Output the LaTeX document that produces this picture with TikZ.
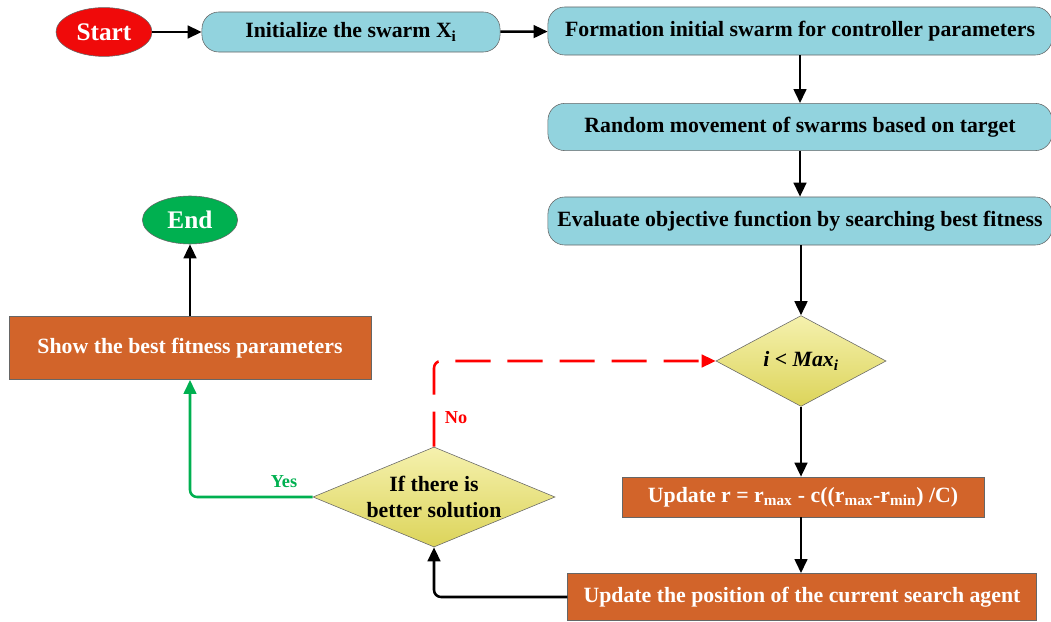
\documentclass[tikz,border=0pt]{standalone}
\usepackage{fontspec}
\setmainfont{Liberation Serif}
\usetikzlibrary{shapes.geometric,arrows.meta}

\definecolor{swarmblue}{HTML}{92D3DE}
\definecolor{rustorange}{HTML}{D2642A}
\definecolor{startred}{HTML}{F00A0A}
\definecolor{endgreen}{HTML}{00B050}
\definecolor{diamondtop}{HTML}{F5F1AE}
\definecolor{diamondbot}{HTML}{DCD45A}

\begin{document}
\begin{tikzpicture}[x=0.025cm, y=-0.025cm,
    font=\fontsize{15.5}{18}\selectfont\bfseries,
    terminal/.style={ellipse, draw=black!60, thin, text=white, inner sep=0pt,
      font=\fontsize{18}{20}\selectfont\bfseries},
    process/.style={rectangle, rounded corners=0.42cm, draw=black!60, thin,
      fill=swarmblue, inner sep=0pt},
    action/.style={rectangle, draw=black!60, thin, fill=rustorange,
      text=white, inner sep=0pt},
    decision/.style={diamond, draw=black!60, thin, top color=diamondtop,
      bottom color=diamondbot, inner sep=-3pt, align=center},
    arrow/.style={-{Triangle[length=10pt,width=9pt]}, line width=1.8pt},
    yesline/.style={arrow, draw=endgreen, rounded corners=5pt},
    noline/.style={arrow, draw=red, rounded corners=5pt, dash pattern=on 25pt off 12pt},
    branch/.style={font=\fontsize{13}{15}\selectfont\bfseries}
  ]
  \useasboundingbox (0,0) rectangle (1051,622);

  % Top row
  \node[terminal, fill=startred, minimum width=2.4cm, minimum height=1.22cm] (start) at (104,32) {Start};
  \node[process, minimum width=7.45cm, minimum height=1.0cm] (init) at (351,32) {Initialize the swarm X\textsubscript{i}};

  % Right column
  \node[process, minimum width=12.6cm, minimum height=1.2cm] (form) at (800,31) {Formation initial swarm for controller parameters};
  \node[process, minimum width=12.6cm, minimum height=1.18cm] (rand) at (800,127) {Random movement of swarms based on target};
  \node[process, minimum width=12.6cm, minimum height=1.2cm] (eval) at (800,221) {Evaluate objective function by searching best fitness};
  \node[decision, aspect=1.9, minimum width=4.25cm, minimum height=2.27cm] (cond) at (801,361) {\textit{i} < \textit{Max}\textsubscript{\textit{i}}};
  \node[action, minimum width=9.05cm, minimum height=1.0cm] (updr) at (803,497) {Update r = r\textsubscript{max} - c((r\textsubscript{max}-r\textsubscript{min}) /C)};
  \node[action, minimum width=11.72cm, minimum height=1.18cm] (updpos) at (802,597) {Update the position of the current search agent};

  % Left part
  \node[decision, aspect=2.42, minimum width=6.05cm, minimum height=2.5cm] (better) at (434,497) {If there is\\better solution};
  \node[action, minimum width=9.05cm, minimum height=1.58cm] (show) at (190,348) {Show the best fitness parameters};
  \node[terminal, fill=endgreen, minimum width=2.38cm, minimum height=1.2cm] (end) at (190,220) {End};

  % Branch labels
  \node[branch, text=red] (nolbl) at (456,418) {No};
  \node[branch, text=endgreen] (yeslbl) at (284,482) {Yes};

  % Connectors
  \draw[arrow] (start) -- (init);
  \draw[arrow] (init) -- (form);
  \draw[arrow] (form) -- (rand);
  \draw[arrow] (rand) -- (eval);
  \draw[arrow] (eval.south -| cond.north) -- (cond);
  \draw[arrow] (cond) -- (updr.north -| cond.south);
  \draw[arrow] (updr.south -| cond.south) -- (updpos.north -| cond.south);
  \draw[arrow, rounded corners=5pt] (updpos.west) -| (better.south);
  \draw[noline] (better.north) |- (cond.west);
  \draw[yesline] (better.west) -| (show.south);
  \draw[arrow] (show) -- (end);
\end{tikzpicture}
\end{document}
